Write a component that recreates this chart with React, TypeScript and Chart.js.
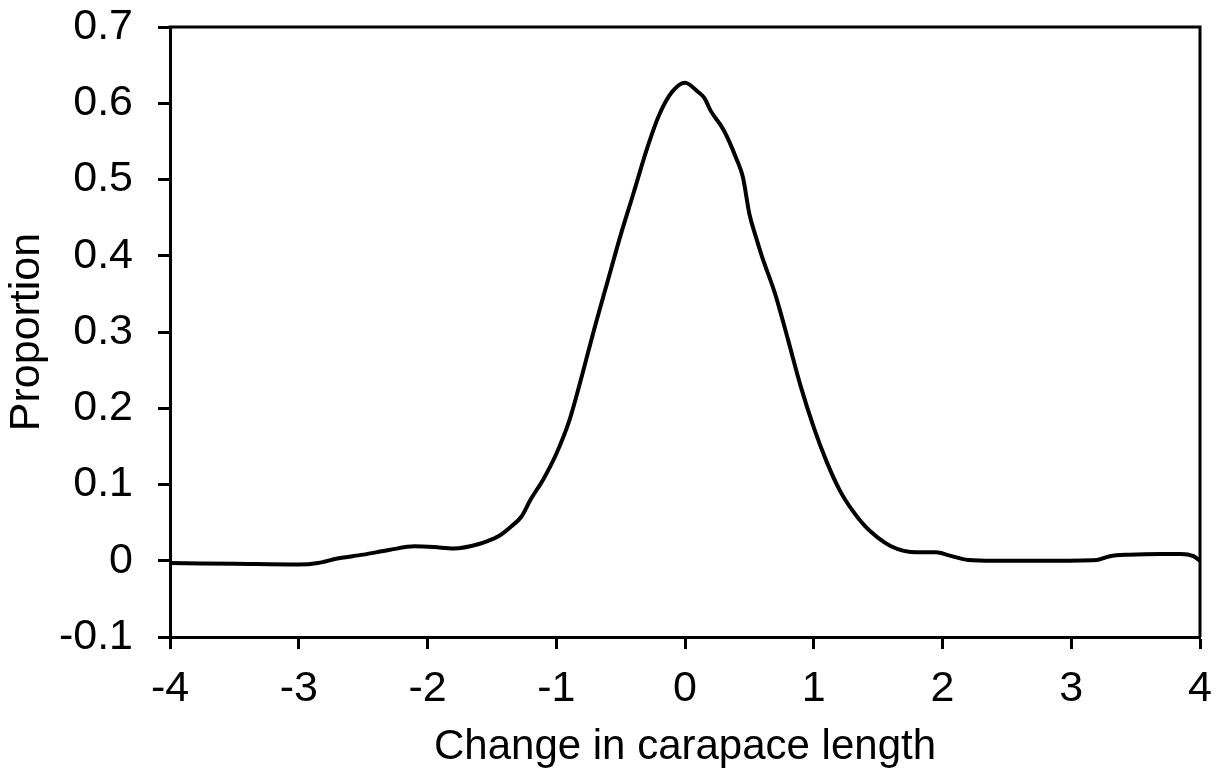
import React, { useEffect, useRef } from "react";
import { Chart, registerables } from "chart.js";

Chart.register(...registerables);

const xValues = [
  -4.0, -3.5, -3.0, -2.85, -2.7, -2.5, -2.3, -2.1, -1.95, -1.8, -1.6, -1.45, -1.35, -1.27, -1.2, -1.1, -1.0,
  -0.9, -0.8, -0.7, -0.6, -0.5, -0.4, -0.3, -0.2, -0.1, 0.0, 0.1, 0.15, 0.2, 0.3, 0.4, 0.45, 0.5, 0.55, 0.6,
  0.7, 0.8, 0.9, 1.0, 1.1, 1.2, 1.3, 1.4, 1.5, 1.6, 1.7, 1.8, 1.95, 2.05, 2.2, 2.4, 2.8, 3.2, 3.3, 3.45, 3.7,
  3.85, 3.95, 4.0,
];
const proportion = [
  -0.003, -0.004, -0.005, -0.003, 0.003, 0.008, 0.014, 0.019, 0.018, 0.016, 0.022, 0.032, 0.045, 0.058, 0.08,
  0.107, 0.14, 0.183, 0.243, 0.307, 0.367, 0.427, 0.482, 0.538, 0.585, 0.615, 0.627, 0.615, 0.607, 0.59, 0.565,
  0.527, 0.503, 0.455, 0.425, 0.398, 0.35, 0.29, 0.228, 0.175, 0.13, 0.093, 0.066, 0.045, 0.03, 0.019, 0.013,
  0.011, 0.011, 0.007, 0.001, 0.0, 0.0, 0.001, 0.006, 0.008, 0.009, 0.009, 0.006, 0.0,
];
const xTickLabels = ["-4", "-3", "-2", "-1", "0", "1", "2", "3", "4"];
const yTickLabels = ["-0.1", "0", "0.1", "0.2", "0.3", "0.4", "0.5", "0.6", "0.7"];
const xTitle = "Change in carapace length";
const yTitle = "Proportion";

const FONT = "'Liberation Sans', Arial, sans-serif";

const frame = {
  id: "frame",
  afterDraw(chart: any) {
    const { ctx, chartArea } = chart;
    ctx.save();
    ctx.strokeStyle = "#000";
    ctx.lineWidth = 3;
    ctx.beginPath();
    ctx.moveTo(chartArea.left - 1.5, chartArea.top);
    ctx.lineTo(chartArea.right, chartArea.top);
    ctx.lineTo(chartArea.right, chartArea.bottom);
    ctx.stroke();
    ctx.restore();
  },
};

export default function App() {
  const ref = useRef<HTMLCanvasElement>(null);
  useEffect(() => {
    if (!ref.current) return;
    const data = xValues.map((x, i) => ({ x, y: proportion[i] }));
    const chart = new Chart(ref.current, {
      type: "scatter",
      data: {
        datasets: [
          {
            data,
            showLine: true,
            borderColor: "#000",
            borderWidth: 4,
            pointRadius: 0,
            cubicInterpolationMode: "monotone",
            fill: false,
          },
        ],
      },
      plugins: [frame],
      options: {
        animation: false,
        responsive: false,
        devicePixelRatio: 1,
        layout: { padding: { top: 27, right: 17, left: 0, bottom: 0 } },
        plugins: { legend: { display: false }, tooltip: { enabled: false } },
        scales: {
          x: {
            type: "linear",
            min: -4,
            max: 4,
            afterFit: (s: any) => {
              s.height = 131;
              s.paddingLeft = 0;
              s.paddingRight = 0;
            },
            ticks: {
              stepSize: 1,
              color: "#000",
              padding: 14,
              font: { family: FONT, size: 43 },
              callback: (v: any) => xTickLabels[Math.round(Number(v) + 4)],
            },
            grid: { drawOnChartArea: false, drawTicks: true, tickLength: 12, tickWidth: 3, tickColor: "#000" },
            border: { display: true, color: "#000", width: 3 },
            title: {
              display: true,
              text: xTitle,
              color: "#000",
              font: { family: FONT, size: 42, lineHeight: 1 },
              padding: { top: 0, bottom: 0 },
            },
          },
          y: {
            type: "linear",
            min: -0.1,
            max: 0.7,
            afterFit: (s: any) => {
              s.width = 170;
              s.paddingTop = 0;
              s.paddingBottom = 0;
            },
            ticks: {
              stepSize: 0.1,
              color: "#000",
              padding: 25,
              font: { family: FONT, size: 43 },
              callback: (v: any) => yTickLabels[Math.round(Number(v) * 10) + 1],
            },
            grid: { drawOnChartArea: false, drawTicks: true, tickLength: 12, tickWidth: 3, tickColor: "#000" },
            border: { display: true, color: "#000", width: 3 },
            title: {
              display: true,
              text: yTitle,
              color: "#000",
              font: { family: FONT, size: 43, lineHeight: 1 },
              padding: { top: 6, bottom: 0 },
            },
          },
        },
      },
    });
    return () => chart.destroy();
  }, []);
  return (
    <div style={{ position: "fixed", left: 0, top: 0, width: 1217, height: 768, background: "#fff" }}>
      <canvas ref={ref} width={1217} height={768} />
    </div>
  );
}
